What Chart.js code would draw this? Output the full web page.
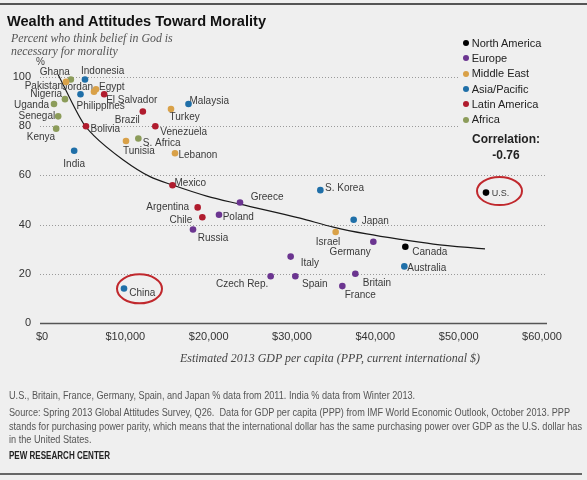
<!DOCTYPE html>
<html><head><meta charset="utf-8">
<script src="https://cdn.jsdelivr.net/npm/chart.js@4.4.1/dist/chart.umd.min.js"></script>
<style>
html,body{margin:0;padding:0;background:#efefef;}
#wrap{position:relative;width:587px;height:480px;overflow:hidden;background:#efefef;font-family:"Liberation Sans",Arial,sans-serif;}
#c{position:absolute;left:0;top:0;}
.t{position:absolute;white-space:nowrap;transform-origin:0 0;}
.rule{position:absolute;left:0;height:2px;background:#555;}
.foot{font-size:10px;line-height:10px;color:#555;left:9px;}
#legend{position:absolute;left:458px;top:30px;width:94px;height:140px;background:#efefef;}
.lg{position:absolute;left:13.7px;font-size:11px;line-height:13px;color:#222;white-space:nowrap;}
.ld{position:absolute;left:4.7px;width:6px;height:6px;border-radius:50%;}
.corr{position:absolute;font:bold 12px/13px "Liberation Sans",Arial,sans-serif;color:#222;text-align:center;left:0;width:96px;}
</style></head><body>
<div id="wrap">
<canvas id="c" width="587" height="480"></canvas>
<div class="rule" style="top:3px;width:587px"></div>
<div class="t fit" data-w="259" style="left:7px;top:13px;font:bold 15px/15px 'Liberation Sans',Arial,sans-serif;color:#111">Wealth and Attitudes Toward Morality</div>
<div class="t" id="sub1" style="left:11px;top:31.8px;font:italic 12px/13px 'Liberation Serif',serif;color:#555">Percent who think belief in God is</div>
<div class="t" id="sub2" style="left:11px;top:44.8px;font:italic 12px/13px 'Liberation Serif',serif;color:#555">necessary for morality</div>
<div class="t" style="left:36px;top:57px;font:10px/10px 'Liberation Sans',Arial,sans-serif;color:#444">%</div>
<div id="legend"><div class="corr" id="corrLabel" style="top:102.5px">Correlation:</div><div class="corr" id="corrValue" style="top:118.5px"></div></div>
<div class="t fit" data-w="300" style="left:180px;top:352px;font:italic 12px/13px 'Liberation Serif',serif;color:#444">Estimated 2013 GDP per capita (PPP, current international $)</div>
<div class="t foot" id="f1" style="top:391px">U.S., Britain, France, Germany, Spain, and Japan % data from 2011. India % data from Winter 2013.</div>
<div class="t foot" id="f2" style="top:408px">Source: Spring 2013 Global Attitudes Survey, Q26.&nbsp; Data for GDP per capita (PPP) from IMF World Economic Outlook, October 2013. PPP</div>
<div class="t foot" id="f3" style="top:422px">stands for purchasing power parity, which means that the international dollar has the same purchasing power over GDP as the U.S. dollar has</div>
<div class="t foot" id="f4" style="top:435px">in the United States.</div>
<div class="t fit" data-w="101" style="left:9px;top:451px;font:bold 10px/10px 'Liberation Sans',Arial,sans-serif;color:#222">PEW RESEARCH CENTER</div>
<div class="rule" style="top:473px;width:582px;background:#666"></div>
</div>
<script>
// ---- data ----
const regions = ['North America','Europe','Middle East','Asia/Pacific','Latin America','Africa'];
const regionColors = ['#000000','#6b3590','#d9a148','#1f6fa8','#b01c2e','#8c9c5a'];

const countries = ['U.S.','Canada',
  'Greece','Poland','Russia','Italy','Czech Rep.','Spain','Britain','France','Germany',
  'Pakistan','Jordan','Egypt','Turkey','Tunisia','Lebanon','Israel',
  'Indonesia','Philippines','India','Malaysia','China','S. Korea','Japan','Australia',
  'El Salvador','Bolivia','Brazil','Venezuela','Mexico','Argentina','Chile',
  'Ghana','Nigeria','Uganda','Senegal','Kenya','S. Africa'];
const countryRegion = [0,0,
  1,1,1,1,1,1,1,1,1,
  2,2,2,2,2,2,2,
  3,3,3,3,3,3,3,3,
  4,4,4,4,4,4,4,
  5,5,5,5,5,5];
const gdpPerCapita = [53280,43600,
  23760,21240,18120,29840,27440,30400,37600,36040,39760,
  2880,6240,6480,15480,10080,15960,35240,
  5160,4620,3860,17580,9840,33400,37400,43480,
  7460,5280,12100,13600,15660,18680,19240,
  3460,2760,1440,1940,1700,11560];
const pctGodNecessary = [53,31,
  49,44,38,27,19,19,20,15,33,
  98,94,95,87,74,69,37,
  99,93,70,89,14,54,42,23,
  93,80,86,80,56,47,43,
  99,91,89,84,79,75];

const trendGdp = [1956,4956,6156,9756,12960,15756,19764,23760,30960,34956,38964,42960,46956,53160];
const trendPct = [100.8,81.2,76.4,66.3,59.5,56.0,51.6,48.3,42.6,39.0,36.2,34.0,32.1,30.1];

const xTicks = [0,10000,20000,30000,40000,50000,60000];
const yTicks = [0,20,40,60,80,100];
const correlation = -0.76;
const circled = ['China','U.S.'];

// ---- label placement (layout only) ----
const labelPlace = {
 'Ghana':['right',-1,-7.5],'Indonesia':['left',-4,-8],'Pakistan':['right',-3,4.5],'Jordan':['right',-1,-5],
 'Egypt':['left',3,-2.5],'Nigeria':['right',-3,-5],'El Salvador':['left',2,6],'Philippines':['left',-4,12.5],
 'Uganda':['right',-5,1],'Senegal':['right',-3,0],'Kenya':['right',-1,9],'Bolivia':['left',4.5,3.5],
 'India':['center',0,13.5],'Brazil':['right',-3,9],'Venezuela':['left',5,6],'Turkey':['left',-1.5,8.5],
 'Malaysia':['left',1,-3],'Tunisia':['left',-3,10.5],'S. Africa':['left',4.5,4.5],'Lebanon':['left',3.5,2],
 'Mexico':['left',2,-1.5],'Argentina':['right',-8.5,0],'Chile':['right',-10,3.3],'Poland':['left',3.7,2],
 'Russia':['left',4.7,9],'China':['left',5.3,5],'Greece':['left',10.7,-5.6],'S. Korea':['left',4.7,-2],
 'Japan':['left',8,1.6],'Israel':['right',4.6,10.3],'Germany':['right',-2.6,10.7],'Canada':['left',7,5.6],
 'Australia':['left',3,2.3],'Italy':['left',10,7],'Czech Rep.':['right',-2.4,8.4],'Spain':['left',6.7,8],
 'Britain':['left',7.4,9.6],'France':['left',2.4,9.4],'U.S.':['left',5.7,0.6]
};
const ellipseGeom = {'China':[15.5,0.3,22.5,14.5],'U.S.':[13.5,-1.5,22.5,14]};

// ---- legend ----
const lg = document.getElementById('legend');
const legendY = [13.3,28,43.7,59,74,89.7];
regions.forEach((r,i)=>{
  const d=document.createElement('div'); d.className='ld'; d.style.background=regionColors[i]; d.style.top=(legendY[i]-3)+'px'; lg.appendChild(d);
  const t=document.createElement('div'); t.className='lg'; t.textContent=r; t.style.top=(legendY[i]-6.4)+'px'; lg.appendChild(t);
});
document.getElementById('corrValue').textContent = correlation.toFixed(2);

// ---- text fitting ----
document.querySelectorAll('.fit').forEach(el=>{const w=+el.dataset.w;const r=el.getBoundingClientRect().width;if(r>0)el.style.transform='scaleX('+(w/r)+')';});
(function(){
  const s1=document.getElementById('sub1'); const k=161.7/s1.getBoundingClientRect().width;
  ['sub1','sub2'].forEach(id=>document.getElementById(id).style.transform='scaleX('+k+')');
  const f3=document.getElementById('f3'); const kf=573/f3.getBoundingClientRect().width;
  ['f1','f2','f3','f4'].forEach(id=>document.getElementById(id).style.transform='scaleX('+kf+')');
})();

// ---- chart ----
const datasets = regions.map((r,ri)=>({
  label:r,
  data: countries.map((c,i)=>({x:gdpPerCapita[i],y:pctGodNecessary[i],name:c,reg:countryRegion[i]})).filter(p=>p.reg===ri),
  backgroundColor: regionColors[ri], borderWidth:0, pointRadius:3.3, pointHoverRadius:3.3, order:0, clip:false
}));
datasets.push({type:'line',label:'trend',data:trendGdp.map((x,i)=>({x:x,y:trendPct[i]})),
  borderColor:'#1a1a1a',borderWidth:1.2,pointRadius:0,tension:0.4,cubicInterpolationMode:'monotone',fill:false,order:10,clip:false});

const gridPlugin = {id:'grid',beforeDatasetsDraw(chart){
  const ctx=chart.ctx, ys=chart.scales.y; ctx.save();
  yTicks.forEach(v=>{
    const py=Math.round(ys.getPixelForValue(v))+0.5;
    ctx.beginPath();
    if(v===0){ctx.setLineDash([]);ctx.strokeStyle='#555';ctx.lineWidth=1.3;}
    else{ctx.setLineDash([1,2]);ctx.strokeStyle='#9a9a9a';ctx.lineWidth=1;}
    ctx.moveTo(40,py);ctx.lineTo(chart.chartArea.right,py);ctx.stroke();
  });
  ctx.restore();
  // labels
  ctx.save();
  ctx.fillStyle='#3a3a3a'; ctx.textBaseline='middle';
  countries.forEach((c,i)=>{
    const p=labelPlace[c]||['left',5,0];
    const px=chart.scales.x.getPixelForValue(gdpPerCapita[i]), py=ys.getPixelForValue(pctGodNecessary[i]);
    ctx.font=(c==='U.S.'?'9px':'10px')+' "Liberation Sans", Arial, sans-serif';
    ctx.textAlign=p[0]; ctx.fillText(c,px+p[1],py+p[2]);
  });
  ctx.restore();
}, afterDatasetsDraw(chart){
  const ctx=chart.ctx; ctx.save(); ctx.strokeStyle='#c0282d'; ctx.lineWidth=2;
  circled.forEach(c=>{const i=countries.indexOf(c); const g=ellipseGeom[c];
    const px=chart.scales.x.getPixelForValue(gdpPerCapita[i]), py=chart.scales.y.getPixelForValue(pctGodNecessary[i]);
    ctx.beginPath(); ctx.ellipse(px+g[0],py+g[1],g[2],g[3],0,0,Math.PI*2); ctx.stroke();});
  ctx.restore();
}};

new Chart(document.getElementById('c'),{
  type:'scatter',
  data:{datasets:datasets},
  options:{
    responsive:false, animation:false, events:[],
    layout:{padding:{left:0,top:77,right:40,bottom:0}},
    plugins:{legend:{display:false},tooltip:{enabled:false},title:{display:false}},
    scales:{
      x:{type:'linear',min:0,max:60600,
        afterBuildTicks(a){a.ticks=xTicks.map(v=>({value:v}));},
        afterFit(a){a.height=157;},
        grid:{display:false,drawTicks:false},border:{display:false},
        ticks:{padding:7,color:'#333',font:{family:'"Liberation Sans", Arial, sans-serif',size:11},maxRotation:0,autoSkip:false,
          callback:v=>'$'+v.toLocaleString('en-US')}},
      y:{type:'linear',min:0,max:100,
        afterBuildTicks(a){a.ticks=yTicks.map(v=>({value:v}));},
        afterFit(a){a.width=42;},
        grid:{display:false,drawTicks:false},border:{display:false},
        ticks:{padding:11,color:'#333',font:{family:'"Liberation Sans", Arial, sans-serif',size:11}}}
    }
  },
  plugins:[gridPlugin]
});
</script>
</body></html>
